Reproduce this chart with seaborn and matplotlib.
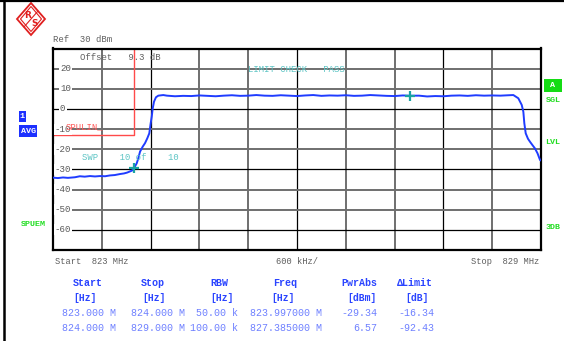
import matplotlib
matplotlib.use("Agg")
import matplotlib.pyplot as plt
import seaborn as sns
import pandas as pd
from matplotlib.patches import Rectangle, Polygon
from matplotlib.lines import Line2D

# ---- measured spectrum (averaged trace), MHz / dBm ----
trace_freq_mhz = [
    823.000, 823.061, 823.123, 823.184, 823.270, 823.330, 823.390, 823.455,
    823.516, 823.578, 823.640, 823.700, 823.760, 823.824, 823.873, 823.910,
    823.947, 823.971, 823.997, 824.029, 824.049, 824.070, 824.103, 824.131,
    824.159, 824.184, 824.201, 824.214, 824.226, 824.242, 824.266, 824.295,
    824.356,
    824.40, 824.50, 824.60, 824.70, 824.80, 824.90, 825.00, 825.10, 825.20,
    825.30, 825.40, 825.50, 825.60, 825.70, 825.80, 825.90, 826.00, 826.10,
    826.20, 826.30, 826.40, 826.50, 826.60, 826.70, 826.80, 826.90, 827.00,
    827.10, 827.20, 827.30, 827.385, 827.50, 827.60, 827.70, 827.80, 827.90,
    828.00, 828.10, 828.20, 828.30, 828.40, 828.50, 828.60, 828.66,
    828.721, 828.763, 828.783, 828.795, 828.812, 828.840, 828.865, 828.896,
    828.926, 828.957, 828.988, 829.000,
]
trace_level_dbm = [
    -34.1, -34.3, -34.0, -34.2, -33.9, -33.4, -33.6, -33.3,
    -33.5, -33.3, -33.4, -33.0, -32.8, -32.3, -32.0, -31.6,
    -31.0, -30.6, -29.34, -27.0, -24.5, -21.2, -18.7, -17.0,
    -14.6, -12.1, -7.1, -3.8, 0.3, 3.6, 5.8, 6.6,
    6.9,
    6.6, 6.3, 6.5, 6.4, 6.7, 6.5, 6.3, 6.6, 6.8,
    6.5, 6.6, 6.9, 6.6, 6.5, 6.8, 6.6, 6.4, 6.7,
    6.9, 6.5, 6.7, 6.6, 6.8, 6.5, 6.6, 6.9, 6.7,
    6.5, 6.4, 6.7, 6.57, 6.6, 6.2, 6.4, 6.3, 6.6,
    6.7, 6.5, 6.8, 6.6, 6.7, 6.6, 6.8, 6.9,
    5.3, 2.0, -1.4, -7.1, -12.1, -14.8, -16.3, -18.0,
    -19.6, -22.0, -25.3, -25.6,
]

# ---- markers ----
marker_freq_mhz = [823.997, 827.385]
marker_level_dbm = [-29.34, 6.57]

# ---- spurious emission limit line ----
limit_freq_mhz = [823.0, 824.0, 824.0, 829.0]
limit_level_dbm = [-13.0, -13.0, 99.0, 99.0]

# ---- axes ----
freq_start_mhz, freq_stop_mhz = 823.0, 829.0
ref_level_dbm = 30
y_tick_values = [20, 10, 0, -10, -20, -30, -40, -50, -60]

# ---- result table ----
range_start_mhz = [823.0, 824.0]
range_stop_mhz = [824.0, 829.0]
range_rbw = ["50.00 k", "100.00 k"]
range_limit_dbm = [-13.0, 99.0]
table_headers = ["Start", "Stop", "RBW", "Freq", "PwrAbs", "\u0394Limit"]
table_units = ["[Hz]", "[Hz]", "[Hz]", "[Hz]", "[dBm]", "[dB]"]

W, H = 564, 341
MONO = ["Liberation Mono", "DejaVu Sans Mono"]

sns.set_style("white")
plt.rcParams["font.family"] = MONO

fig = plt.figure(figsize=(W / 100, H / 100), dpi=100)
fig.patch.set_facecolor("white")

L, R, T, B = 53, 541, 48.5, 250
ax = fig.add_axes([L / W, 1 - B / H, (R - L) / W, (B - T) / H])
ax.set_xlim(freq_start_mhz, freq_stop_mhz)
ax.set_ylim(ref_level_dbm - 100, ref_level_dbm)
ax.set_xticks([])
ax.set_yticks([])
ax.set_xlabel("")
ax.set_ylabel("")
for s in ax.spines.values():
    s.set_color("black")
    s.set_linewidth(1.6)

# graticule: 10 x 10 divisions
div_x = (freq_stop_mhz - freq_start_mhz) / 10
for i in range(1, 10):
    dark = (i % 3 == 2)
    ax.axvline(freq_start_mhz + i * div_x, color="black" if dark else "#6f6f6f",
               lw=0.9 if dark else 1.4, zorder=1)
for i, v in enumerate(y_tick_values, start=1):
    dark = (i % 3 == 0)
    ax.axhline(v, color="black" if dark else "#6f6f6f",
               lw=0.9 if dark else 1.4, zorder=1)

# level labels on the left edge of the graticule
for v in y_tick_values:
    xoff = 7 if v >= 0 else 1.8
    ax.text(xoff / (R - L), v, f"{v}", transform=ax.get_yaxis_transform(),
            ha="left", va="center", fontsize=6.6, color="#5a5a5a",
            family=MONO, zorder=4,
            bbox=dict(boxstyle="square,pad=0.12", fc="white", ec="none"))

# limit line
lim_df = pd.DataFrame({"f": limit_freq_mhz, "lvl": limit_level_dbm})
ax.plot(lim_df["f"], lim_df["lvl"], color="#ff4a4a", lw=1.0, zorder=2)

# trace
tr = pd.DataFrame({"freq": trace_freq_mhz, "level": trace_level_dbm})
sns.lineplot(data=tr, x="freq", y="level", ax=ax, color="#1f3cff", lw=1.4,
             sort=False, estimator=None, zorder=3, legend=False)
ax.set_xlabel("")
ax.set_ylabel("")

# markers
mk = pd.DataFrame({"freq": marker_freq_mhz, "level": marker_level_dbm})
sns.scatterplot(data=mk, x="freq", y="level", ax=ax, marker="+", s=60,
                color="#1aa3a3", linewidth=1.6, zorder=5, legend=False)
ax.set_xlabel("")
ax.set_ylabel("")


def ftext(x, y, s, **kw):
    kw.setdefault("va", "center")
    kw.setdefault("ha", "left")
    kw.setdefault("family", MONO)
    fig.text(x / W, 1 - y / H, s, **kw)


GREY = "#5f5f5f"
TEAL = "#5cc4c4"
GREEN = "#22dd22"
BLUE_BOX = "#1c30ff"

ftext(53, 40, "Ref  30 dBm", fontsize=6.4, color=GREY)
ftext(80, 58, "Offset   9.3 dB", fontsize=6.4, color=GREY)
ftext(248, 69.5, "LIMIT CHECK   PASS", fontsize=6.4, color=TEAL)
ftext(81.7, 157.3, "SWP    10 of    10", fontsize=6.4, color=TEAL)
ftext(66, 127, "SPULIN_", fontsize=6.4, color="#ff5a5a")

ftext(55, 261, "Start  823 MHz", fontsize=6.3, color=GREY)
ftext(276, 261, "600 kHz/", fontsize=6.3, color=GREY)
ftext(539.5, 261, "Stop  829 MHz", fontsize=6.3, color=GREY, ha="right")

# left / right annotation boxes
for (x0, y0, x1, y1, txt, col) in [
    (19, 111, 25.7, 122.3, "1", BLUE_BOX),
    (19, 125, 37.3, 137.3, "AVG", BLUE_BOX),
    (544, 79.3, 561.7, 91.7, "A", "#14dc14"),
]:
    fig.patches.append(Rectangle((x0 / W, 1 - y1 / H), (x1 - x0) / W, (y1 - y0) / H,
                                 transform=fig.transFigure, fc=col, ec="none"))
    ftext((x0 + x1) / 2, (y0 + y1) / 2, txt, fontsize=6.0, color="white",
          weight="bold", ha="center")

ftext(20.5, 224.3, "SPUEM", fontsize=6.0, color=GREEN, weight="bold")
ftext(545.5, 100.7, "SGL", fontsize=6.0, color=GREEN, weight="bold")
ftext(545.5, 142.7, "LVL", fontsize=6.0, color=GREEN, weight="bold")
ftext(546, 227.3, "3DB", fontsize=6.0, color=GREEN, weight="bold")

# result table
HEAD = "#2a44ff"
ROW = "#6e80ff"
head_x = [72.7, 141, 210, 272.7, 341.7, 396.7]
unit_x = [73, 142.7, 210.7, 271.7, 347.7, 405]
for x, s in zip(head_x, table_headers):
    ftext(x, 283.3, s, fontsize=7.2, color=HEAD, weight="bold")
for x, s in zip(unit_x, table_units):
    ftext(x, 298.3, s, fontsize=7.0, color=HEAD, weight="bold")

col_right = [116, 185, 238, 322, 377.5, 434]
for r, yrow in enumerate([312.7, 328.3]):
    cells = [
        f"{range_start_mhz[r]:.3f} M",
        f"{range_stop_mhz[r]:.3f} M",
        range_rbw[r],
        f"{marker_freq_mhz[r]:.6f} M",
        f"{marker_level_dbm[r]:.2f}",
        f"{marker_level_dbm[r] - range_limit_dbm[r]:.2f}",
    ]
    for x, s in zip(col_right, cells):
        ftext(x, yrow, s, fontsize=7.2, color=ROW, ha="right")

# outer frame lines
fig.lines.append(Line2D([0, 1], [1 - 0.8 / H, 1 - 0.8 / H], transform=fig.transFigure,
                        color="black", lw=1.6))
fig.lines.append(Line2D([3.6 / W, 3.6 / W], [0, 1], transform=fig.transFigure,
                        color="black", lw=1.8))

# company logo (diamond)
cx, cy = 31, 19
outer = [(cx, cy - 16), (cx + 14, cy), (cx, cy + 16), (cx - 14, cy)]
inner = [(cx, cy - 12.5), (cx + 10.5, cy), (cx, cy + 12.5), (cx - 10.5, cy)]
for pts, lw in [(outer, 1.3), (inner, 0.8)]:
    fig.patches.append(Polygon([(x / W, 1 - y / H) for x, y in pts], closed=True,
                               transform=fig.transFigure, fc="none", ec="#e02020", lw=lw))
fig.lines.append(Line2D([(cx - 7) / W, (cx + 7) / W], [1 - (cy + 8) / H, 1 - (cy - 8) / H],
                        transform=fig.transFigure, color="#e02020", lw=0.8))
ftext(cx - 3.5, cy - 4, "R", fontsize=6.5, color="#e02020", weight="bold", ha="center",
      family=["DejaVu Sans"])
ftext(cx + 3.5, cy + 4.5, "S", fontsize=6.5, color="#e02020", weight="bold", ha="center",
      family=["DejaVu Sans"])

fig.savefig("out.png", dpi=100, facecolor="white")
